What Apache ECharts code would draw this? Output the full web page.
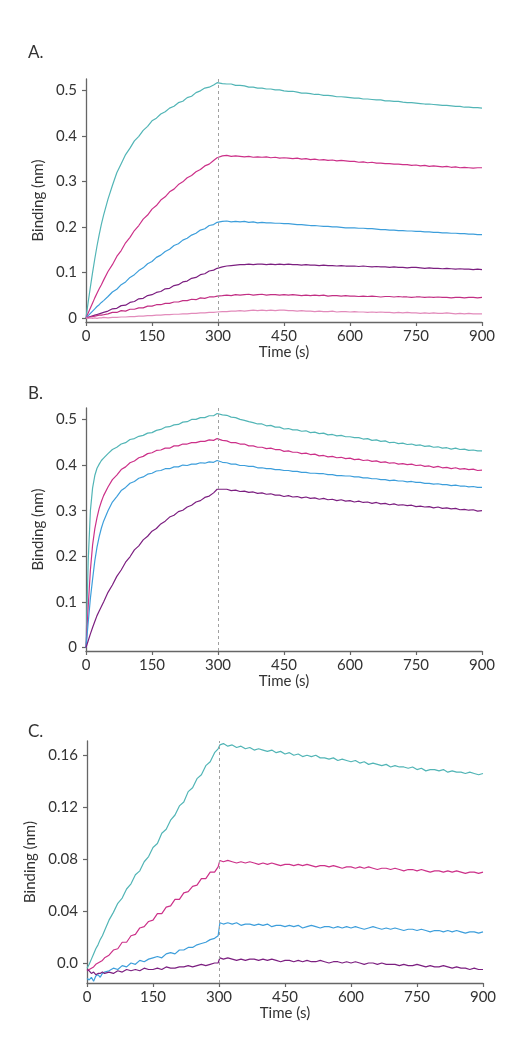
<!DOCTYPE html>
<html>
<head>
<meta charset="utf-8">
<script src="https://cdn.jsdelivr.net/npm/echarts@6/dist/echarts.min.js"></script>
<style>
  html, body { margin: 0; padding: 0; background: #fff; }
  #chart { width: 511px; height: 1047px; }
</style>
</head>
<body>
<div id="chart"></div>
<script>
// ---- time samples (s) ----
const assocTimes = [0,5,10,15,20,25,30,35,40,
  50,60,70,80,90,100,110,120,130,140,
  150,160,170,180,190,200,210,220,230,240,
  250,260,270,280,290,298];
const dissocTimes = [302,310,320,330,340,350,360,370,380,390,
  400,410,420,430,440,450,460,470,480,490,
  500,510,520,530,540,550,560,570,580,590,
  600,610,620,630,640,650,660,670,680,690,
  700,710,720,730,740,750,760,770,780,790,
  800,810,820,830,840,850,860,870,880,890,
  900];

// ---- tick labels ----
const xTicks = [0,150,300,450,600,750,900];
const yTicksAB = [0,0.1,0.2,0.3,0.4,0.5];
const yTicksC = [0,0.04,0.08,0.12,0.16];
const yLabelsC = ['0.0','0.04','0.08','0.12','0.16'];
const panelTitles = ['A.','B.','C.'];

// ---- Panel A ----
const A_teal_on = [0,0.035,0.068,0.1,0.13,0.158,0.183,0.206,0.226,
  0.261,0.291,0.319,0.339,0.359,0.373,0.389,0.399,0.412,0.421,
  0.433,0.439,0.448,0.453,0.461,0.465,0.473,0.476,0.484,0.487,
  0.495,0.499,0.505,0.507,0.512,0.517];
const A_teal_off = [0.518,0.515,0.514,0.514,0.511,0.511,0.510,0.507,0.507,0.505,
  0.505,0.503,0.503,0.501,0.501,0.499,0.498,0.498,0.496,0.494,
  0.494,0.493,0.491,0.491,0.489,0.489,0.488,0.486,0.486,0.485,
  0.484,0.483,0.483,0.481,0.481,0.480,0.479,0.479,0.477,0.477,
  0.476,0.476,0.474,0.473,0.473,0.472,0.471,0.470,0.470,0.469,
  0.468,0.467,0.467,0.466,0.465,0.465,0.463,0.463,0.462,0.462,
  0.461];
const A_mag_on = [0,0.011,0.022,0.033,0.044,0.054,0.064,0.073,0.083,
  0.102,0.117,0.135,0.148,0.165,0.177,0.192,0.203,0.217,0.226,
  0.239,0.247,0.259,0.266,0.277,0.283,0.293,0.299,0.308,0.313,
  0.321,0.326,0.334,0.338,0.346,0.352];
const A_mag_off = [0.355,0.356,0.357,0.355,0.356,0.355,0.354,0.355,0.353,0.354,
  0.353,0.354,0.352,0.353,0.351,0.352,0.351,0.350,0.351,0.349,
  0.350,0.348,0.349,0.347,0.348,0.346,0.347,0.345,0.346,0.345,
  0.344,0.344,0.342,0.343,0.341,0.342,0.340,0.340,0.339,0.339,
  0.338,0.338,0.337,0.337,0.335,0.336,0.334,0.335,0.333,0.334,
  0.333,0.332,0.333,0.331,0.332,0.330,0.331,0.330,0.329,0.330,
  0.330];
const A_blue_on = [0,0.005,0.01,0.015,0.02,0.025,0.029,0.034,0.038,
  0.047,0.057,0.063,0.073,0.079,0.089,0.095,0.104,0.110,0.119,
  0.124,0.133,0.138,0.146,0.151,0.159,0.163,0.171,0.175,0.182,
  0.186,0.193,0.196,0.203,0.205,0.210];
const A_blue_off = [0.211,0.212,0.213,0.211,0.212,0.211,0.212,0.210,0.211,0.209,
  0.210,0.209,0.209,0.208,0.208,0.207,0.207,0.206,0.205,0.205,
  0.204,0.203,0.203,0.202,0.201,0.201,0.200,0.200,0.199,0.198,
  0.198,0.198,0.197,0.197,0.196,0.196,0.195,0.194,0.194,0.193,
  0.193,0.192,0.192,0.191,0.191,0.190,0.190,0.189,0.189,0.188,
  0.188,0.187,0.187,0.186,0.186,0.185,0.185,0.184,0.184,0.183,
  0.183];
const A_purple_on = [0,0.0015,0.003,0.0045,0.006,0.0075,0.009,0.0105,0.012,
  0.015,0.020,0.021,0.027,0.028,0.034,0.036,0.042,0.043,0.049,
  0.051,0.056,0.058,0.064,0.065,0.071,0.073,0.079,0.081,0.087,
  0.089,0.095,0.097,0.103,0.105,0.109];
const A_purple_off = [0.110,0.112,0.114,0.115,0.116,0.117,0.117,0.118,0.117,0.118,
  0.118,0.117,0.118,0.117,0.118,0.117,0.118,0.117,0.117,0.116,
  0.117,0.116,0.116,0.115,0.116,0.115,0.115,0.114,0.115,0.114,
  0.114,0.114,0.113,0.114,0.113,0.112,0.113,0.112,0.112,0.111,
  0.112,0.111,0.111,0.110,0.111,0.111,0.110,0.109,0.110,0.109,
  0.109,0.108,0.109,0.108,0.107,0.108,0.107,0.107,0.106,0.107,
  0.106];
const A_rose_on = [0,0.001,0.002,0.003,0.004,0.005,0.006,0.006,0.007,
  0.009,0.012,0.012,0.016,0.015,0.019,0.019,0.022,0.022,0.026,
  0.026,0.029,0.029,0.032,0.032,0.035,0.035,0.038,0.038,0.041,
  0.040,0.044,0.043,0.046,0.046,0.048];
const A_rose_off = [0.048,0.049,0.050,0.049,0.051,0.050,0.051,0.052,0.050,0.051,
  0.052,0.050,0.051,0.051,0.050,0.051,0.050,0.051,0.050,0.049,
  0.050,0.049,0.050,0.049,0.050,0.048,0.049,0.049,0.048,0.049,
  0.048,0.048,0.047,0.048,0.047,0.048,0.047,0.046,0.047,0.047,
  0.046,0.047,0.046,0.046,0.045,0.046,0.046,0.045,0.046,0.045,
  0.046,0.045,0.045,0.044,0.045,0.045,0.044,0.045,0.045,0.044,
  0.045];
const A_pink_on = [0,-0.001,0.0,-0.001,0.0,-0.001,0.0,0.0,0.001,
  0.0,0.001,0.001,0.002,0.002,0.003,0.003,0.004,0.004,0.005,
  0.005,0.006,0.006,0.007,0.007,0.008,0.008,0.009,0.009,0.010,
  0.010,0.011,0.011,0.012,0.012,0.013];
const A_pink_off = [0.013,0.014,0.014,0.015,0.015,0.016,0.015,0.016,0.017,0.016,
  0.017,0.016,0.017,0.016,0.017,0.017,0.016,0.016,0.015,0.016,
  0.015,0.015,0.014,0.015,0.014,0.014,0.015,0.013,0.014,0.014,
  0.013,0.014,0.013,0.013,0.012,0.013,0.012,0.013,0.012,0.012,
  0.011,0.012,0.011,0.012,0.011,0.011,0.010,0.011,0.010,0.011,
  0.010,0.010,0.011,0.010,0.009,0.010,0.009,0.010,0.009,0.009,
  0.009];

// ---- Panel B ----
const B_teal_on = [0,0.19,0.30,0.35,0.377,0.393,0.402,0.41,0.415,
  0.425,0.434,0.439,0.446,0.449,0.456,0.458,0.463,0.465,0.470,
  0.471,0.476,0.478,0.483,0.484,0.488,0.489,0.494,0.495,0.500,
  0.500,0.504,0.504,0.508,0.508,0.513];
const B_teal_off = [0.514,0.510,0.509,0.505,0.504,0.500,0.498,0.495,0.493,0.490,
  0.490,0.486,0.487,0.483,0.483,0.479,0.480,0.477,0.477,0.474,
  0.475,0.471,0.472,0.469,0.470,0.466,0.467,0.464,0.465,0.462,
  0.462,0.460,0.460,0.457,0.458,0.454,0.455,0.452,0.453,0.449,
  0.450,0.447,0.448,0.445,0.446,0.443,0.444,0.441,0.442,0.439,
  0.440,0.437,0.438,0.435,0.437,0.434,0.435,0.432,0.433,0.431,
  0.431];
const B_mag_on = [0,0.09,0.17,0.225,0.26,0.285,0.305,0.32,0.333,
  0.352,0.368,0.378,0.390,0.396,0.405,0.409,0.416,0.419,0.425,
  0.427,0.432,0.433,0.437,0.437,0.442,0.442,0.446,0.446,0.449,
  0.449,0.452,0.452,0.455,0.454,0.458];
const B_mag_off = [0.456,0.454,0.453,0.449,0.449,0.446,0.446,0.442,0.442,0.439,
  0.439,0.436,0.437,0.434,0.434,0.430,0.431,0.428,0.428,0.425,
  0.426,0.423,0.424,0.420,0.421,0.418,0.419,0.416,0.417,0.414,
  0.415,0.412,0.413,0.410,0.411,0.408,0.409,0.406,0.407,0.404,
  0.405,0.402,0.403,0.401,0.402,0.399,0.400,0.397,0.398,0.395,
  0.397,0.394,0.395,0.392,0.394,0.391,0.392,0.390,0.391,0.388,
  0.389];
const B_blue_on = [0,0.055,0.108,0.15,0.19,0.22,0.243,0.262,0.277,
  0.300,0.319,0.331,0.344,0.351,0.360,0.364,0.371,0.374,0.380,
  0.382,0.387,0.388,0.392,0.392,0.396,0.396,0.400,0.399,0.402,
  0.402,0.405,0.404,0.407,0.406,0.410];
const B_blue_off = [0.409,0.406,0.405,0.402,0.402,0.399,0.399,0.397,0.397,0.394,
  0.394,0.392,0.392,0.390,0.390,0.388,0.388,0.386,0.386,0.384,
  0.384,0.382,0.382,0.381,0.381,0.379,0.379,0.377,0.377,0.376,
  0.376,0.374,0.374,0.372,0.372,0.370,0.370,0.368,0.368,0.366,
  0.367,0.365,0.365,0.363,0.364,0.362,0.362,0.360,0.360,0.358,
  0.359,0.357,0.357,0.355,0.356,0.354,0.354,0.352,0.353,0.351,
  0.351];
const B_purple_on = [0,0.015,0.03,0.044,0.057,0.07,0.08,0.09,0.1,
  0.121,0.137,0.156,0.170,0.187,0.199,0.214,0.223,0.236,0.244,
  0.255,0.261,0.271,0.277,0.286,0.290,0.298,0.301,0.308,0.312,
  0.319,0.322,0.329,0.332,0.339,0.347];
const B_purple_off = [0.349,0.347,0.347,0.344,0.345,0.342,0.343,0.340,0.341,0.338,
  0.339,0.336,0.337,0.334,0.334,0.331,0.333,0.330,0.331,0.328,
  0.330,0.327,0.328,0.325,0.327,0.324,0.325,0.322,0.324,0.321,
  0.322,0.319,0.321,0.318,0.319,0.316,0.318,0.315,0.316,0.313,
  0.315,0.312,0.313,0.311,0.312,0.309,0.310,0.308,0.309,0.306,
  0.308,0.305,0.306,0.304,0.305,0.302,0.303,0.301,0.302,0.299,
  0.300];

// ---- Panel C ----
const C_teal_on = [-0.004,-0.001,0.003,0.007,0.011,0.014,0.018,0.021,0.025,
  0.033,0.039,0.046,0.050,0.057,0.061,0.068,0.071,0.078,0.082,
  0.089,0.092,0.100,0.103,0.110,0.114,0.121,0.124,0.132,0.135,
  0.142,0.145,0.152,0.155,0.162,0.165];
const C_teal_off = [0.168,0.169,0.167,0.168,0.166,0.167,0.165,0.166,0.164,0.165,
  0.164,0.163,0.164,0.162,0.163,0.161,0.162,0.160,0.161,0.159,
  0.160,0.159,0.160,0.158,0.158,0.157,0.158,0.156,0.157,0.156,
  0.155,0.156,0.154,0.155,0.153,0.154,0.153,0.152,0.153,0.151,
  0.152,0.151,0.151,0.150,0.151,0.149,0.150,0.148,0.149,0.149,
  0.148,0.149,0.147,0.148,0.147,0.147,0.146,0.147,0.146,0.145,
  0.146];
const C_mag_on = [-0.006,-0.005,-0.004,-0.003,-0.001,0.0,0.001,0.002,0.004,
  0.006,0.010,0.011,0.016,0.016,0.021,0.022,0.027,0.028,0.032,
  0.033,0.038,0.038,0.043,0.044,0.049,0.049,0.054,0.055,0.059,
  0.060,0.065,0.065,0.070,0.070,0.074];
const C_mag_off = [0.079,0.078,0.079,0.078,0.077,0.078,0.077,0.078,0.077,0.076,
  0.077,0.076,0.077,0.076,0.075,0.076,0.076,0.075,0.076,0.075,
  0.076,0.075,0.074,0.075,0.075,0.074,0.075,0.074,0.073,0.074,
  0.074,0.073,0.074,0.073,0.074,0.073,0.072,0.073,0.073,0.072,
  0.073,0.072,0.071,0.072,0.072,0.071,0.072,0.071,0.070,0.071,
  0.071,0.070,0.071,0.070,0.071,0.070,0.069,0.070,0.070,0.069,
  0.070];
const C_blue_on = [-0.012,-0.013,-0.011,-0.014,-0.010,-0.009,-0.011,-0.008,-0.007,
  -0.006,-0.004,-0.005,-0.002,-0.003,0.0,-0.001,0.002,0.001,0.003,
  0.004,0.005,0.004,0.007,0.008,0.007,0.010,0.010,0.012,0.012,
  0.014,0.015,0.016,0.018,0.019,0.021];
const C_blue_off = [0.031,0.030,0.031,0.030,0.031,0.029,0.030,0.030,0.029,0.030,
  0.029,0.030,0.028,0.029,0.029,0.028,0.029,0.028,0.029,0.027,
  0.028,0.029,0.028,0.027,0.028,0.028,0.027,0.028,0.027,0.028,
  0.027,0.028,0.027,0.026,0.027,0.028,0.027,0.026,0.027,0.026,
  0.027,0.026,0.025,0.026,0.026,0.025,0.026,0.025,0.024,0.025,
  0.025,0.024,0.025,0.024,0.025,0.024,0.023,0.024,0.024,0.023,
  0.024];
const C_purple_on = [-0.005,-0.006,-0.008,-0.007,-0.009,-0.008,-0.008,-0.007,-0.008,
  -0.007,-0.008,-0.006,-0.007,-0.005,-0.006,-0.005,-0.006,-0.004,-0.005,
  -0.005,-0.004,-0.005,-0.003,-0.004,-0.004,-0.003,-0.003,-0.002,-0.003,
  -0.002,-0.001,-0.002,-0.001,0.0,0.0];
const C_purple_off = [0.004,0.003,0.004,0.003,0.002,0.003,0.002,0.003,0.003,0.002,
  0.003,0.002,0.003,0.002,0.001,0.002,0.002,0.001,0.002,0.001,
  0.002,0.001,0.001,0.002,0.001,0.000,0.001,0.001,0.000,0.001,
  0.000,0.001,0.000,-0.001,0.000,0.000,-0.001,0.000,-0.001,-0.001,
  -0.001,-0.002,-0.001,-0.002,-0.002,-0.001,-0.002,-0.003,-0.002,-0.003,
  -0.003,-0.002,-0.003,-0.004,-0.003,-0.004,-0.004,-0.005,-0.004,-0.005,
  -0.005];

// ---- colours ----
const TEAL = '#52b5b6', MAG = '#cc3189', BLUE = '#3d9edb', PURPLE = '#7c1f80', ROSE = '#c22f84', PINK = '#e28bbb';

const FONT = 'Lato, "Open Sans", sans-serif';
const TXT = '#333';
const AX = '#666';
const FS = 15;
const allTimes = assocTimes.concat(dissocTimes);

function mk(on, off, color, idx, withMark) {
  const vals = on.concat(off);
  const s = {
    type: 'line', xAxisIndex: idx, yAxisIndex: idx,
    data: allTimes.map((t, i) => [t, vals[i]]),
    showSymbol: false, symbol: 'none', animation: false, silent: true,
    lineStyle: { width: 1.2, color: color }, itemStyle: { color: color }
  };
  if (withMark) {
    s.markLine = {
      silent: true, symbol: ['none', 'none'], animation: false,
      label: { show: false },
      lineStyle: { type: [3, 3], color: '#a0a0a0', width: 1 },
      data: [{ xAxis: 300 }]
    };
  }
  return s;
}

const grids = [
  { left: 86, top: 79, width: 396, height: 243 },
  { left: 86, top: 408, width: 396, height: 243 },
  { left: 87, top: 741, width: 396, height: 242 }
];
const yRanges = [[-0.009, 0.525], [-0.0075, 0.525], [-0.0154, 0.171]];
const nameGaps = [31, 31, 43];

const xAxes = grids.map((g, i) => ({
  type: 'value', gridIndex: i, min: 0, max: 900, interval: 150,
  name: 'Time (s)', nameLocation: 'middle', nameGap: 23,
  nameTextStyle: { fontFamily: FONT, fontSize: FS, color: TXT },
  axisLine: { show: true, onZero: false, lineStyle: { color: AX, width: 1.3 } },
  axisTick: { show: true, inside: false, length: 4, lineStyle: { color: AX, width: 1.2 } },
  axisLabel: { fontFamily: FONT, fontSize: FS, color: TXT, margin: 7,
    customValues: xTicks },
  splitLine: { show: false }
}));

const yAxes = grids.map((g, i) => {
  const ticks = i < 2 ? yTicksAB : yTicksC;
  return {
    type: 'value', gridIndex: i, min: yRanges[i][0], max: yRanges[i][1],
    name: 'Binding (nm)', nameLocation: 'middle', nameGap: nameGaps[i],
    nameTextStyle: { fontFamily: FONT, fontSize: FS, color: TXT },
    axisLine: { show: true, onZero: false, lineStyle: { color: AX, width: 1.3 } },
    axisTick: { show: true, inside: false, length: 4, lineStyle: { color: AX, width: 1.2 },
      customValues: ticks },
    axisLabel: { fontFamily: FONT, fontSize: FS, color: TXT, margin: 9,
      customValues: ticks,
      formatter: function (v) {
        if (i < 2) return String(Math.round(v * 10) / 10);
        const k = yTicksC.findIndex(t => Math.abs(t - v) < 1e-9);
        return k >= 0 ? yLabelsC[k] : '';
      } },
    splitLine: { show: false }
  };
});

const series = [
  mk(A_teal_on, A_teal_off, TEAL, 0, true),
  mk(A_mag_on, A_mag_off, MAG, 0, false),
  mk(A_blue_on, A_blue_off, BLUE, 0, false),
  mk(A_purple_on, A_purple_off, PURPLE, 0, false),
  mk(A_rose_on, A_rose_off, ROSE, 0, false),
  mk(A_pink_on, A_pink_off, PINK, 0, false),
  mk(B_teal_on, B_teal_off, TEAL, 1, true),
  mk(B_mag_on, B_mag_off, MAG, 1, false),
  mk(B_blue_on, B_blue_off, BLUE, 1, false),
  mk(B_purple_on, B_purple_off, PURPLE, 1, false),
  mk(C_teal_on, C_teal_off, TEAL, 2, true),
  mk(C_mag_on, C_mag_off, MAG, 2, false),
  mk(C_blue_on, C_blue_off, BLUE, 2, false),
  mk(C_purple_on, C_purple_off, PURPLE, 2, false)
];

const titleTops = [39, 380, 718];
const chart = echarts.init(document.getElementById('chart'), null, { renderer: 'canvas' });
chart.setOption({
  backgroundColor: '#fff',
  animation: false,
  title: panelTitles.map((t, i) => ({
    text: t, left: 23, top: titleTops[i],
    textStyle: { fontFamily: FONT, fontSize: 17, fontWeight: 'normal', color: TXT }
  })),
  grid: grids,
  xAxis: xAxes,
  yAxis: yAxes,
  series: series
});
</script>
</body>
</html>
